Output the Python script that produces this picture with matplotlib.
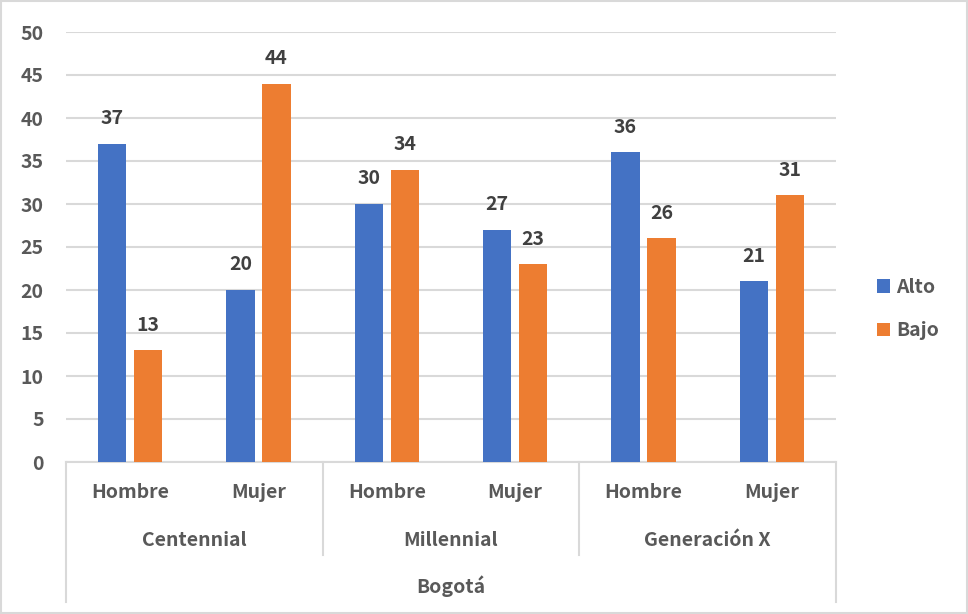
import numpy as np
import matplotlib.pyplot as plt
from matplotlib.lines import Line2D
from matplotlib.patches import Rectangle

plt.rcParams["font.family"] = ["Noto Sans CJK SC", "DejaVu Sans"]
plt.rcParams["font.weight"] = "bold"

sexos       = ["Hombre", "Mujer", "Hombre", "Mujer", "Hombre", "Mujer"]
generaciones = ["Centennial", "Millennial", "Generación X"]
ciudad      = "Bogotá"
alto        = [37, 20, 30, 27, 36, 21]
bajo        = [13, 44, 34, 23, 26, 31]

AZUL    = "#4472C4"
NARANJA = "#ED7D31"
GRIS_T  = "#595959"
GRIS_L  = "#D9D9D9"
FS      = 14

W, H = 968, 614
fig = plt.figure(figsize=(W / 100, H / 100), dpi=100)
fig.patch.set_facecolor("white")

x0, x1, y0, y1 = 66, 836, 462, 32
ax = fig.add_axes([x0 / W, 1 - y0 / H, (x1 - x0) / W, (y0 - y1) / H])

x = np.arange(len(sexos))
ancho = 0.22
off = 0.14
b1 = ax.bar(x - off, alto, ancho, color=AZUL, label="Alto", zorder=3)
b2 = ax.bar(x + off, bajo, ancho, color=NARANJA, label="Bajo", zorder=3)

for barras in (b1, b2):
    for r in barras:
        ax.annotate(f"{r.get_height():.0f}",
                    (r.get_x() + r.get_width() / 2, r.get_height()),
                    textcoords="offset points", xytext=(0, 18),
                    ha="center", va="center", fontsize=FS,
                    fontweight="bold", color="#404040")

ax.set_xlim(-0.5, len(sexos) - 0.5)
ax.set_ylim(0, 50)
ax.set_yticks(range(0, 51, 5))
ax.tick_params(axis="y", length=0, pad=16, labelsize=FS, labelcolor=GRIS_T)
for t in ax.get_yticklabels():
    t.set_fontweight("bold")
ax.set_xticks([])
ax.grid(axis="y", color=GRIS_L, lw=1.5, zorder=0)
for s in ["top", "right", "left"]:
    ax.spines[s].set_visible(False)
ax.spines["bottom"].set_color(GRIS_L)
ax.spines["bottom"].set_linewidth(1.5)

# Ejes de categorías multinivel
def fy(py):
    return 1 - py / H

def fx(px):
    return px / W

cat_w = (x1 - x0) / len(sexos)
for i, s in enumerate(sexos):
    fig.text(fx(x0 + cat_w * (i + 0.5)), fy(493), s, ha="center", va="center",
             fontsize=FS, fontweight="bold", color=GRIS_T)
for j, g in enumerate(generaciones):
    fig.text(fx(x0 + cat_w * (2 * j + 1)), fy(540), g, ha="center", va="center",
             fontsize=FS, fontweight="bold", color=GRIS_T)
fig.text(fx((x0 + x1) / 2), fy(586), ciudad, ha="center", va="center",
         fontsize=FS, fontweight="bold", color=GRIS_T)

for k in range(4):
    px = x0 + cat_w * 2 * k
    bottom = 602 if k in (0, 3) else 555
    fig.add_artist(Line2D([fx(px), fx(px)], [fy(y0), fy(bottom)],
                          color=GRIS_L, lw=1.5))

leg = fig.legend(handles=[b1, b2], loc="center left",
                 bbox_to_anchor=(fx(859), fy(309)), frameon=False,
                 fontsize=FS, handlelength=0.7, handleheight=0.7,
                 handletextpad=0.3, labelspacing=1.25)
for t in leg.get_texts():
    t.set_fontweight("bold")
    t.set_color(GRIS_T)

fig.add_artist(Rectangle((0.001, 0.001), 0.998, 0.997, transform=fig.transFigure,
                         fill=False, edgecolor=GRIS_L, lw=1.5))

plt.savefig("out.png", dpi=100, facecolor="white")
